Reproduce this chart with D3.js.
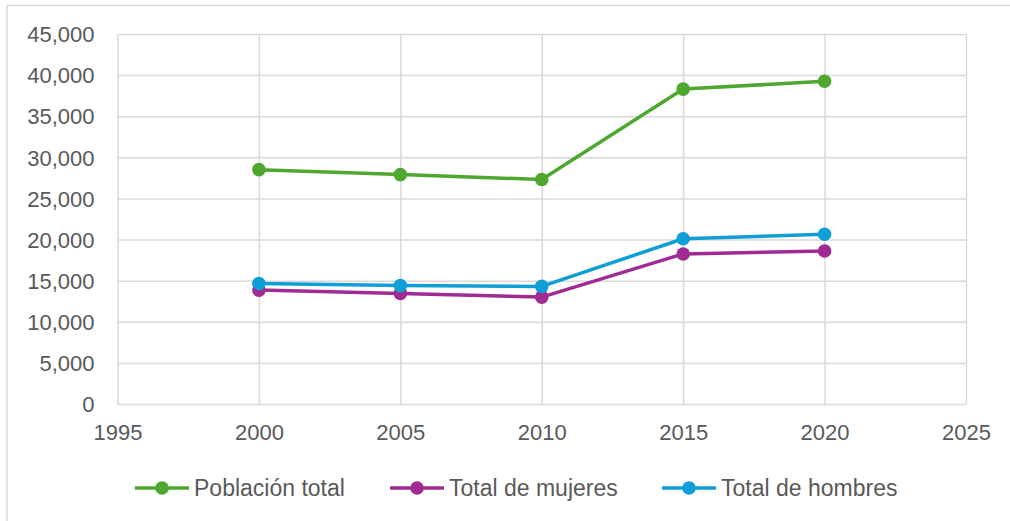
<!DOCTYPE html>
<html>
<head>
<meta charset="utf-8">
<script src="https://cdn.jsdelivr.net/npm/d3@7"></script>
<style>
  body { margin: 0; background: #fff; }
  svg { display: block; font-family: "Liberation Sans", Arial, sans-serif; }
  .axis text { fill: #595959; font-size: 22px; }
  .axis line { stroke: #d9d9d9; stroke-width: 1.5; }
  .axis .domain { display: none; }
  .legend text { fill: #595959; font-size: 23px; }
</style>
</head>
<body>
<svg width="1010" height="521"></svg>
<script>
var years = [2000, 2005, 2010, 2015, 2020];
var poblacionTotal = [28500, 27900, 27300, 38300, 39250];
var totalMujeres = [13850, 13450, 13000, 18250, 18600];
var totalHombres = [14650, 14400, 14300, 20100, 20650];
var xTicks = [1995, 2000, 2005, 2010, 2015, 2020, 2025];
var yTicks = [0, 5000, 10000, 15000, 20000, 25000, 30000, 35000, 40000, 45000];

var series = [
    {name: "Población total", values: poblacionTotal, color: "#4ea72e"},
    {name: "Total de mujeres", values: totalMujeres, color: "#a02b93"},
    {name: "Total de hombres", values: totalHombres, color: "#0f9ed5"}
];

var svg = d3.select("svg"),
    margin = {top: 34, right: 44, bottom: 117, left: 117.5},
    width = svg.attr("width") - margin.left - margin.right,
    height = svg.attr("height") - margin.top - margin.bottom;

var formatValue = d3.format(",d");

// outer chart border
svg.append("rect")
    .attr("x", 7).attr("y", 5.5)
    .attr("width", 1020).attr("height", 540)
    .attr("fill", "none")
    .attr("stroke", "#d9d9d9")
    .attr("stroke-width", 1.5);

var x = d3.scaleLinear().domain([1995, 2025]).range([0, width]);
var y = d3.scaleLinear().domain([0, 45000]).range([height, 0]);

var g = svg.append("g")
    .attr("transform", "translate(" + margin.left + "," + margin.top + ")");

g.append("g")
    .attr("class", "axis axis--y")
    .call(d3.axisLeft(y).tickValues(yTicks).tickFormat(formatValue).tickSizeInner(-width).tickSizeOuter(0).tickPadding(23))
    .selectAll("text").attr("dy", "0.35em");

g.append("g")
    .attr("class", "axis axis--x")
    .attr("transform", "translate(0," + height + ")")
    .call(d3.axisBottom(x).tickValues(xTicks).tickFormat(d3.format("d")).tickSizeInner(-height).tickSizeOuter(0).tickPadding(20));

var line = d3.line()
    .x(function(d, i) { return x(years[i]); })
    .y(function(d) { return y(d); });

var lines = g.append("g").attr("class", "series")
    .selectAll("g").data(series).enter().append("g");

lines.append("path")
    .attr("d", function(d) { return line(d.values); })
    .attr("fill", "none")
    .attr("stroke", function(d) { return d.color; })
    .attr("stroke-width", 3.5)
    .attr("stroke-linejoin", "round");

lines.selectAll("circle")
    .data(function(d) { return d.values.map(function(v, i) { return {v: v, yr: years[i], color: d.color}; }); })
    .enter().append("circle")
    .attr("cx", function(d) { return x(d.yr); })
    .attr("cy", function(d) { return y(d.v); })
    .attr("r", 6.8)
    .attr("fill", function(d) { return d.color; });

// legend
var legendX = [135, 390, 662];
var legend = svg.append("g").attr("class", "legend")
    .selectAll("g").data(series).enter().append("g")
    .attr("transform", function(d, i) { return "translate(" + legendX[i] + ",488)"; });

legend.append("line")
    .attr("x1", 0).attr("x2", 54)
    .attr("stroke", function(d) { return d.color; })
    .attr("stroke-width", 3.5);

legend.append("circle")
    .attr("cx", 27).attr("r", 6.8)
    .attr("fill", function(d) { return d.color; });

legend.append("text")
    .attr("x", 59)
    .attr("dy", "0.35em")
    .text(function(d) { return d.name; });
</script>
</body>
</html>
